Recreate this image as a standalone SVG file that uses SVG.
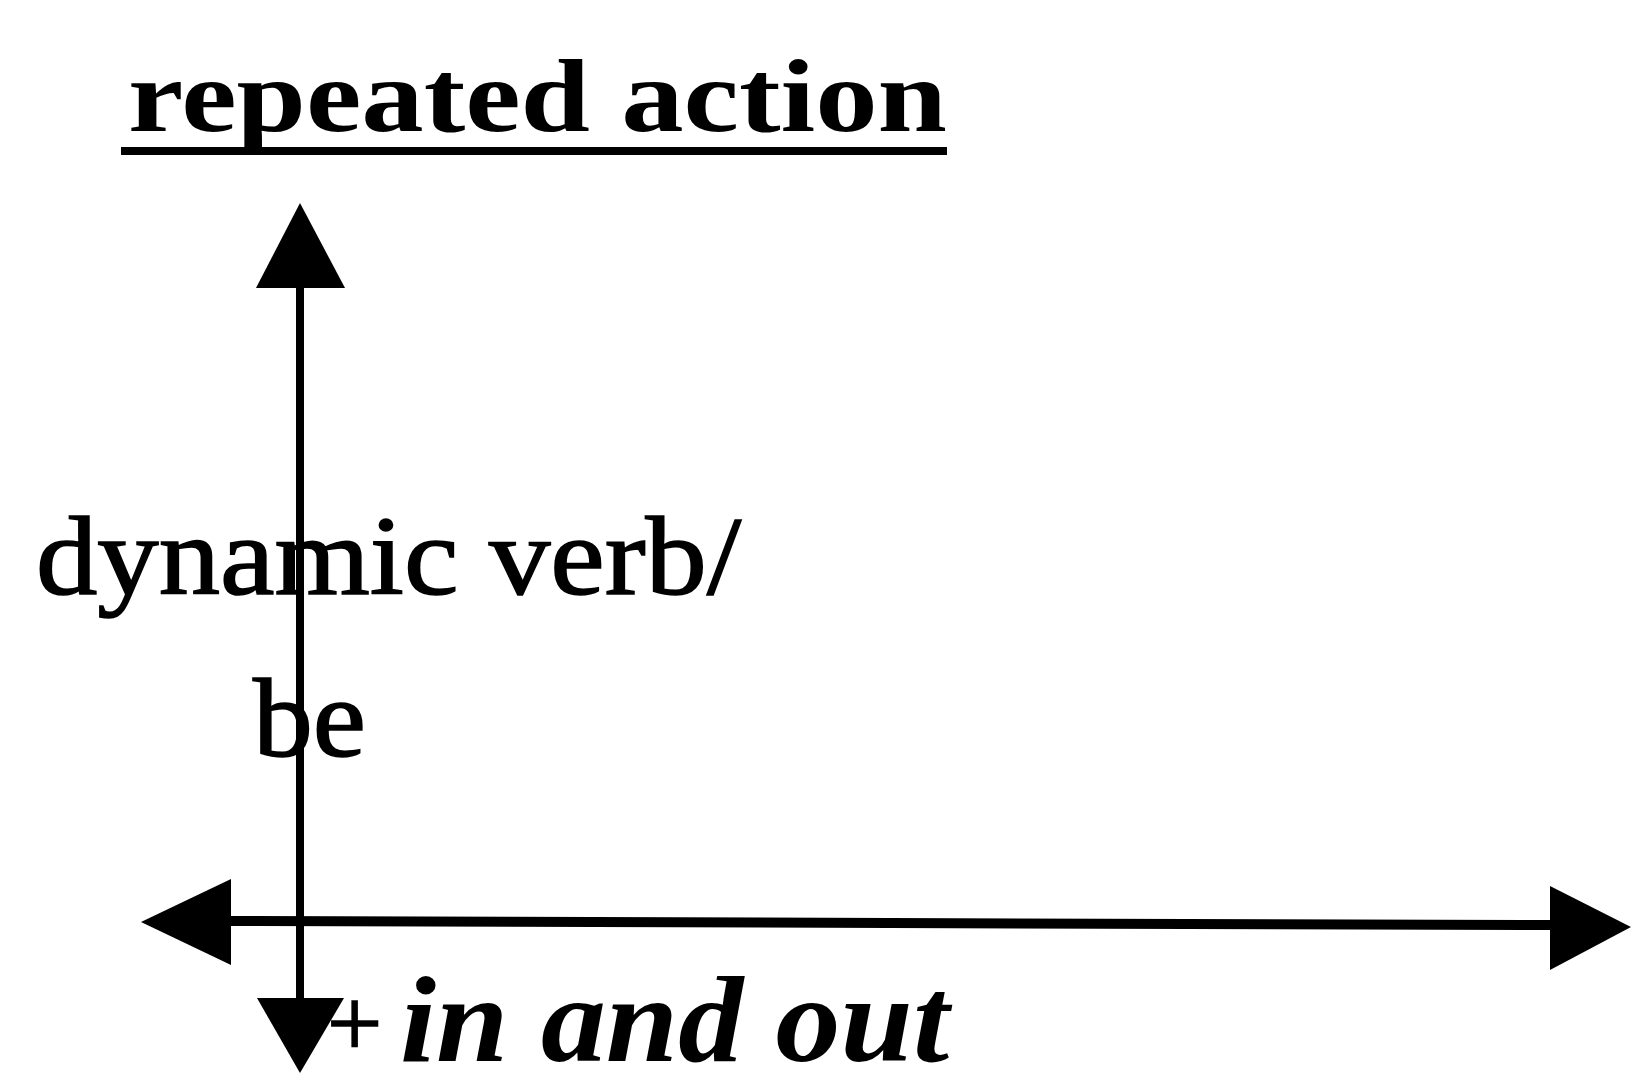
<svg xmlns="http://www.w3.org/2000/svg" width="1631" height="1075" viewBox="0 0 1631 1075">
<style>
.t{font-family:"Liberation Serif","Times New Roman",serif;fill:#000}
.th{stroke:#000;stroke-width:1.6}
.ax{stroke:#000;fill:none}
.hd{fill:#000;stroke:none}
</style>
<rect width="1631" height="1075" fill="#fff"/>
<g id="title">
<text class="t" x="128" y="131" font-size="104" font-weight="bold" textLength="819" lengthAdjust="spacingAndGlyphs">repeated action</text>
<rect x="121" y="147" width="826" height="8" fill="#000"/>
</g>
<g id="connectors">
<line class="ax" x1="300" y1="280" x2="300" y2="1005" stroke-width="8"/>
<polygon class="hd" points="300,203 345,288 256,288"/>
<polygon class="hd" points="300,1073 344,998 257,998"/>
<line class="ax" x1="225" y1="921" x2="1555" y2="925" stroke-width="10"/>
<polygon class="hd" points="141,922 231,879 231,965"/>
<polygon class="hd" points="1631,927 1550,886 1550,970"/>
</g>
<g id="label-vertical">
<text class="t th" x="36" y="594" font-size="112" textLength="705" lengthAdjust="spacingAndGlyphs">dynamic verb/</text>
<text class="t th" x="253" y="756" font-size="112" textLength="113" lengthAdjust="spacingAndGlyphs">be</text>
</g>
<g id="label-horizontal">
<text class="t th" x="327" y="1056" font-size="98">+</text>
<text class="t" x="400" y="1061" font-size="122" font-style="italic" font-weight="bold" textLength="549" lengthAdjust="spacingAndGlyphs">in and out</text>
</g>
</svg>
